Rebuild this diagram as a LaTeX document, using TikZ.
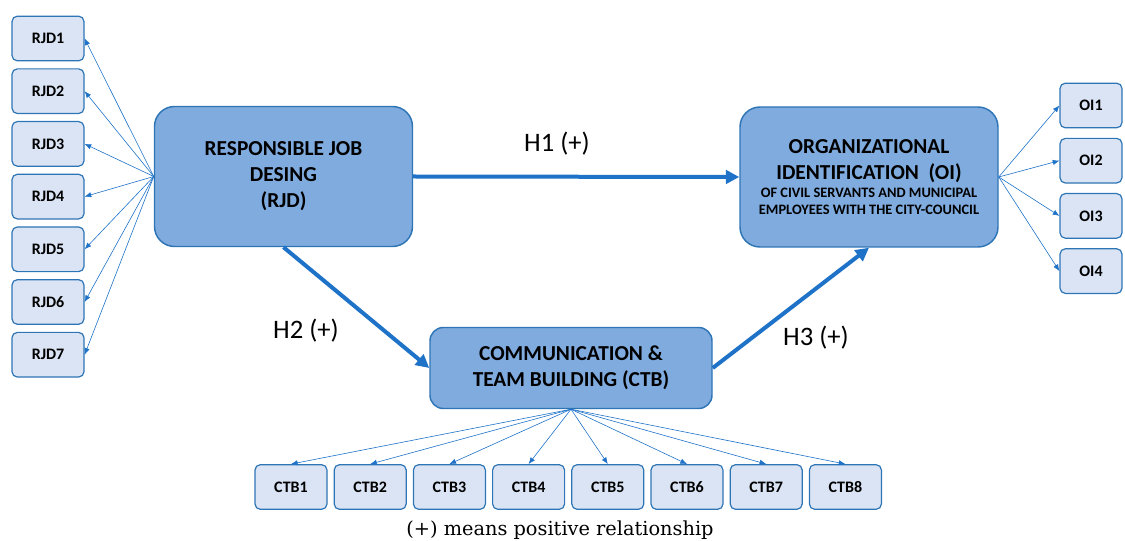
\documentclass[tikz,border=0pt]{standalone}
\usepackage{fontspec}
\setsansfont{Carlito}
\newfontfamily\notefont{DejaVu Serif}
\usetikzlibrary{arrows.meta}
\definecolor{boxfill}{RGB}{128,171,222}
\definecolor{boxline}{RGB}{46,117,182}
\definecolor{itemfill}{RGB}{218,228,244}
\definecolor{arrowblue}{RGB}{30,114,200}
\begin{document}
\begin{tikzpicture}[x=0.75pt, y=-0.75pt,
    construct/.style={draw=boxline, line width=1.1pt, fill=boxfill, rounded corners=15pt,
      align=center, inner sep=0pt, font=\sffamily\bfseries\fontsize{16}{19.5}\selectfont},
    item/.style={draw=boxline, line width=0.9pt, fill=itemfill, rounded corners=4pt,
      minimum width=54pt, minimum height=33.5pt, inner sep=0pt,
      font=\sffamily\bfseries\fontsize{12}{14}\selectfont},
    load/.style={draw=arrowblue, line width=0.45pt, -{Latex[length=5pt,width=4pt]}},
    hyp/.style={draw=arrowblue, line width=3pt, -{Triangle[length=10pt,width=10pt]}},
    hlabel/.style={font=\sffamily\fontsize{20}{24}\selectfont}]
  \useasboundingbox (0,0) rectangle (1125,541);
  \node[construct, minimum width=193.5pt, minimum height=105pt] (rjd) at (283.5,176.5)
    {RESPONSIBLE JOB\\DESING\\(RJD)};
  \node[construct, minimum width=193.5pt, minimum height=105pt] (oi) at (869,177)
    {ORGANIZATIONAL\\IDENTIFICATION~ (OI)\\[-6pt]
     \fontsize{10.8}{13}\selectfont OF CIVIL SERVANTS AND MUNICIPAL\\[-6.7pt]
     \fontsize{10.8}{13}\selectfont EMPLOYEES WITH THE CITY-COUNCIL};
  \node[construct, rounded corners=10pt, minimum width=211.5pt, minimum height=60.75pt] (ctb)
    at (571,368) {COMMUNICATION \&\\TEAM BUILDING (CTB)};
  \foreach \i in {1,...,7}
    \node[item] (rjd\i) at (48,{38.5+52.7*(\i-1)}) {RJD\i};
  \foreach \i in {1,...,4}
    \node[item, minimum width=46.5pt] (oi\i) at (1091,{105.5+55.2*(\i-1)}) {OI\i};
  \foreach \i in {1,...,8}
    \node[item] (ctb\i) at ({291+79.2*(\i-1)},487) {CTB\i};
  \foreach \i in {1,...,7}
    \draw[load] (rjd.west) -- (rjd\i.east);
  \foreach \i in {1,...,4}
    \draw[load] (oi.east) -- (oi\i.west);
  \foreach \i in {1,...,8}
    \draw[load] (ctb.south) -- (ctb\i.north);
  \draw[hyp] (rjd.east) -- (oi.west);
  \draw[hyp] (rjd.south) -- (ctb.west);
  \draw[hyp] (ctb.east) -- (oi.south);
  \node[hlabel] (h1) at (557,144) {H1 (+)};
  \node[hlabel] (h2) at (306,331) {H2 (+)};
  \node[hlabel] (h3) at (816,338) {H3 (+)};
  \node (note) at (560,530) {\notefont\fontsize{14.5}{17}\selectfont (+) means positive relationship};
\end{tikzpicture}
\end{document}
